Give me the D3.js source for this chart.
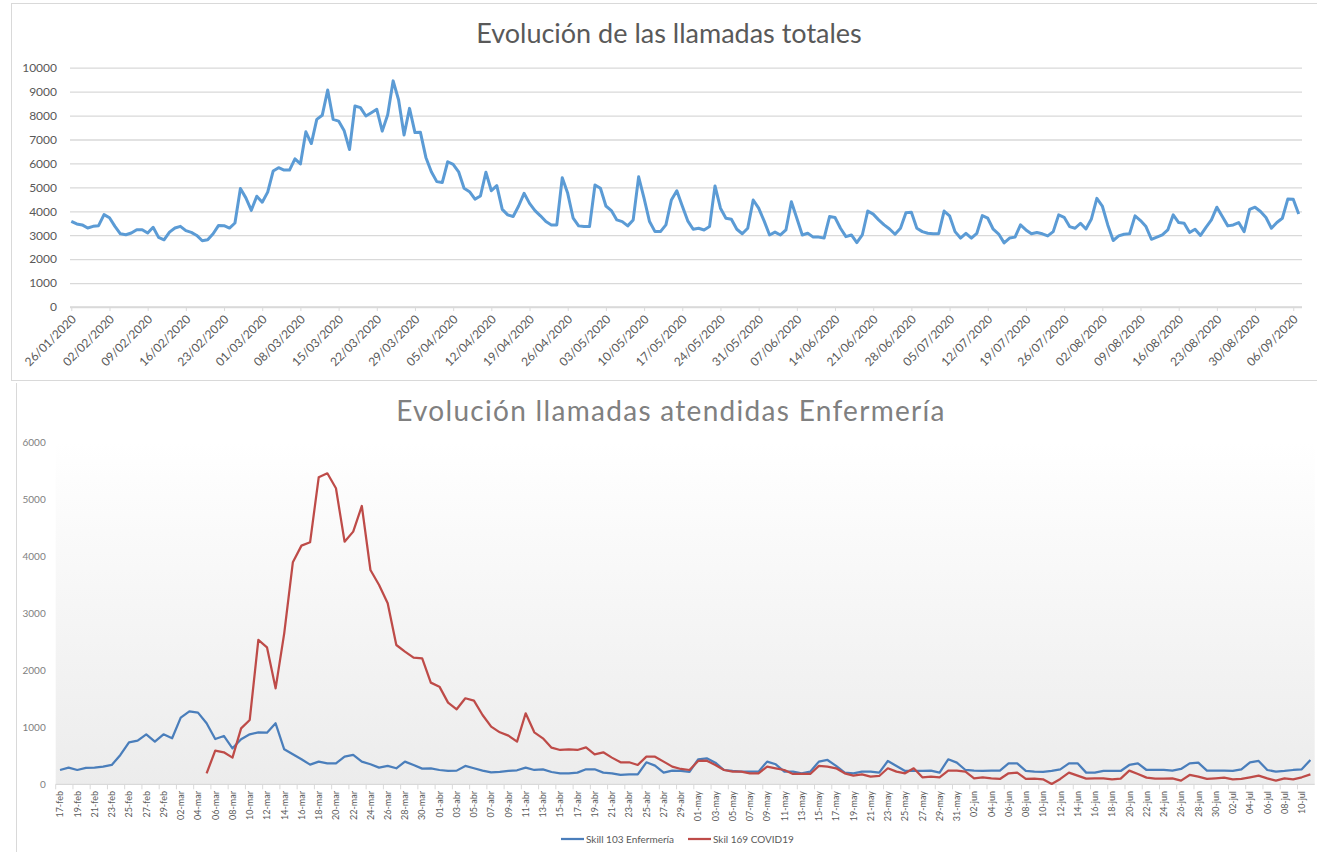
<!DOCTYPE html>
<html lang="es">
<head>
<meta charset="utf-8">
<title>Evolución de las llamadas</title>
<script src="https://cdn.jsdelivr.net/npm/d3@7"></script>
<style>
  html, body { margin: 0; padding: 0; background: #fff; }
  svg { display: block; font-family: Lato, "Open Sans", sans-serif; }
</style>
</head>
<body>
<svg id="chart" width="1317" height="852"></svg>
<script>
// ---- data: llamadas totales (diario desde 26/01/2020) ----
const totalStart = new Date(2020, 0, 26);
const totalCalls = [
  3580, 3470, 3430, 3300, 3370, 3400, 3860, 3730, 3370, 3060,
  3020, 3090, 3230, 3230, 3090, 3330, 2910, 2810, 3130, 3300,
  3370, 3190, 3120, 2990, 2770, 2810, 3060, 3410, 3400, 3300,
  3510, 4950, 4560, 4040, 4630, 4380, 4800, 5680, 5820, 5720,
  5720, 6190, 5980, 7320, 6830, 7840, 8010, 9070, 7840, 7770,
  7380, 6580, 8400, 8330, 7980, 8120, 8260, 7350, 8030, 9450,
  8650, 7190, 8300, 7290, 7300, 6250, 5650, 5240, 5200, 6070,
  5960, 5650, 4960, 4820, 4510, 4640, 5630, 4860, 5070, 4080,
  3850, 3780, 4220, 4750, 4330, 4030, 3810, 3570, 3430, 3430,
  5400, 4750, 3710, 3390, 3360, 3360, 5100, 4960, 4220, 4030,
  3640, 3570, 3390, 3640, 5440, 4540, 3570, 3150, 3150, 3430,
  4470, 4860, 4220, 3600, 3250, 3290, 3220, 3360, 5060, 4130,
  3710, 3670, 3250, 3060, 3290, 4470, 4130, 3600, 3010, 3130,
  3010, 3220, 4400, 3710, 3010, 3080, 2920, 2920, 2880, 3780,
  3740, 3290, 2940, 3010, 2690, 3010, 4010, 3880, 3640, 3430,
  3260, 3040, 3290, 3940, 3960, 3290, 3150, 3080, 3060, 3060,
  4010, 3810, 3150, 2880, 3080, 2880, 3080, 3820, 3710, 3250,
  3050, 2680, 2880, 2920, 3430, 3220, 3060, 3110, 3060, 2970,
  3150, 3850, 3750, 3360, 3290, 3500, 3260, 3680, 4540, 4220,
  3430, 2780, 2970, 3040, 3060, 3810, 3610, 3360, 2830, 2920,
  3010, 3220, 3850, 3530, 3500, 3110, 3250, 2990, 3330, 3640,
  4170, 3780, 3390, 3430, 3530, 3150, 4080, 4170, 3990, 3740,
  3290, 3530, 3710, 4510, 4500, 3890
];
const totalYTicks = [0, 1000, 2000, 3000, 4000, 5000, 6000, 7000, 8000, 9000, 10000];

// ---- data: llamadas atendidas enfermería (diario desde 17-feb) ----
const nurseStart = new Date(2020, 1, 17);
const skill103 = [
  251, 292, 251, 287, 292, 310, 339, 515, 737, 766,
  877, 749, 877, 807, 1170, 1281, 1257, 1070, 795, 848,
  632, 789, 877, 912, 906, 1070, 614, 526, 439, 345,
  398, 368, 368, 485, 515, 398, 351, 292, 322, 281,
  398, 339, 275, 281, 251, 234, 240, 322, 281, 240,
  211, 216, 234, 246, 292, 251, 263, 216, 193, 193,
  205, 263, 263, 205, 193, 164, 175, 175, 386, 327,
  205, 240, 234, 216, 439, 456, 380, 251, 234, 222,
  222, 222, 398, 351, 222, 222, 193, 222, 398, 427,
  322, 205, 193, 222, 222, 205, 409, 322, 234, 234,
  234, 240, 205, 439, 380, 251, 240, 234, 240, 240,
  368, 368, 234, 222, 216, 234, 263, 368, 368, 205,
  205, 234, 234, 234, 339, 368, 251, 251, 251, 240,
  269, 368, 380, 240, 240, 240, 234, 263, 386, 409,
  251, 222, 234, 251, 263, 427
];
const skill169 = [
  null, null, null, null, null, null, null, null, null, null,
  null, null, null, null, null, null, null, 193, 590, 561,
  468, 982, 1129, 2532, 2404, 1684, 2649, 3895, 4187, 4246,
  5386, 5456, 5193, 4257, 4433, 4883, 3760, 3497, 3175, 2444,
  2327, 2222, 2211, 1784, 1713, 1433, 1316, 1509, 1468, 1216,
  1012, 912, 854, 749, 1246, 912, 807, 643, 602, 614,
  602, 649, 526, 561, 468, 386, 386, 339, 485, 485,
  398, 310, 269, 251, 409, 415, 339, 251, 222, 222,
  193, 193, 310, 281, 251, 181, 181, 181, 322, 310,
  281, 193, 152, 175, 135, 146, 281, 222, 193, 281,
  123, 135, 123, 240, 240, 222, 105, 123, 105, 94,
  193, 205, 94, 99, 88, 6, 94, 205, 152, 99,
  105, 105, 88, 99, 240, 181, 117, 99, 99, 105,
  64, 164, 135, 94, 105, 117, 88, 94, 123, 152,
  105, 64, 105, 88, 123, 175
];
const nurseYTicks = [0, 1000, 2000, 3000, 4000, 5000, 6000];
const nurseSeries = [
  { label: "Skill 103 Enfermería", values: skill103, color: "#4a7ebb" },
  { label: "Skil 169 COVID19", values: skill169, color: "#be4b48" },
];
const monthsEs = ["ene", "feb", "mar", "abr", "may", "jun", "jul", "ago", "sep", "oct", "nov", "dic"];

const svg = d3.select("#chart");
const grey = "#595959";
const plain = d3.format("d");

// ================= panel 1 =================
svg.append("rect")
  .attr("x", 11.5).attr("y", 3.5)
  .attr("width", 1330).attr("height", 377)
  .attr("fill", "#fff").attr("stroke", "#d9d9d9");

svg.append("text")
  .attr("x", 669).attr("y", 43)
  .attr("text-anchor", "middle")
  .attr("fill", grey)
  .attr("font-size", 27)
  .text("Evolución de las llamadas totales");

const plotTop = { left: 70, right: 1302, y0: 307, y1: 67.7 };
const xTop = d3.scaleLinear()
  .domain([0, totalCalls.length - 1])
  .range([71.3, 1298.7]);
const yTop = d3.scaleLinear().domain([0, 10000]).range([plotTop.y0, plotTop.y1]);
const fmtTop = d3.timeFormat("%d/%m/%Y");

const gy = svg.append("g")
  .attr("transform", `translate(${plotTop.left},0)`)
  .call(d3.axisLeft(yTop).tickValues(totalYTicks).tickFormat(plain)
    .tickSize(-(plotTop.right - plotTop.left)).tickPadding(13));
gy.select(".domain").remove();
gy.selectAll("line").attr("stroke", "#d9d9d9").attr("stroke-width", 1.3);
gy.selectAll("text").attr("fill", grey).attr("font-size", 12)
  .attr("font-family", "Lato, sans-serif");

const gx = svg.append("g")
  .attr("transform", `translate(0,${plotTop.y0})`)
  .call(d3.axisBottom(xTop)
    .tickValues(d3.range(0, totalCalls.length, 7))
    .tickFormat((i) => fmtTop(d3.timeDay.offset(totalStart, i)))
    .tickSize(4).tickSizeOuter(0));
gx.select(".domain").attr("stroke", "#d9d9d9").attr("stroke-width", 1.3)
  .attr("d", `M${plotTop.left},0H${plotTop.right}`);
gx.selectAll("line").attr("stroke", "#d9d9d9");
gx.selectAll("text")
  .attr("x", 0).attr("y", 0).attr("dy", 0)
  .attr("transform", "translate(5,13) rotate(-45)")
  .style("text-anchor", "end")
  .attr("fill", grey).attr("font-size", 12)
  .attr("font-family", "Lato, sans-serif");

svg.append("path")
  .datum(totalCalls)
  .attr("fill", "none")
  .attr("stroke", "#5b9bd5")
  .attr("stroke-width", 3)
  .attr("stroke-linejoin", "round")
  .attr("d", d3.line().x((d, i) => xTop(i)).y((d) => yTop(d)));

// ================= panel 2 =================
svg.append("line")
  .attr("x1", 16.5).attr("x2", 16.5).attr("y1", 383).attr("y2", 852)
  .attr("stroke", "#d9d9d9");

const defs = svg.append("defs");
const grad = defs.append("linearGradient")
  .attr("id", "plotBg").attr("x1", 0).attr("y1", 0).attr("x2", 0).attr("y2", 1);
grad.append("stop").attr("offset", "0%").attr("stop-color", "#ffffff");
grad.append("stop").attr("offset", "100%").attr("stop-color", "#ececec");

const days = d3.range(skill103.length);
const xBot = d3.scaleBand().domain(days).range([55.7, 1314.7]).paddingInner(0);
const cx = (i) => xBot(i) + xBot.bandwidth() / 2;
const yBot = d3.scaleLinear().domain([0, 6000]).range([784.3, 442.3]);

svg.append("rect")
  .attr("x", xBot.range()[0]).attr("y", yBot(6000))
  .attr("width", xBot.range()[1] - xBot.range()[0])
  .attr("height", yBot(0) - yBot(6000))
  .attr("fill", "url(#plotBg)");

svg.append("text")
  .attr("x", 671).attr("y", 421)
  .attr("text-anchor", "middle")
  .attr("fill", "#808080")
  .attr("font-size", 28)
  .attr("letter-spacing", 1.3)
  .text("Evolución llamadas atendidas Enfermería");

const gy2 = svg.append("g")
  .attr("transform", `translate(${xBot.range()[0]},0)`)
  .call(d3.axisLeft(yBot).tickValues(nurseYTicks).tickFormat(plain)
    .tickSize(0).tickPadding(10));
gy2.select(".domain").remove();
gy2.selectAll("text").attr("fill", "#7f7f7f").attr("font-size", 10)
  .attr("font-family", "Lato, sans-serif");

// x axis line and tick marks at category edges, every two days
svg.append("line")
  .attr("x1", xBot.range()[0]).attr("x2", xBot.range()[1])
  .attr("y1", yBot(0)).attr("y2", yBot(0))
  .attr("stroke", "#d9d9d9").attr("stroke-width", 1.3);
svg.append("g")
  .selectAll("line")
  .data(days.filter((i) => i % 2 === 0))
  .join("line")
  .attr("x1", (i) => xBot(i)).attr("x2", (i) => xBot(i))
  .attr("y1", yBot(0)).attr("y2", yBot(0) + 5)
  .attr("stroke", "#d9d9d9");

const fmtBot = (i) => {
  const d = d3.timeDay.offset(nurseStart, i);
  return `${d3.timeFormat("%d")(d)}-${monthsEs[d.getMonth()]}`;
};
svg.append("g")
  .selectAll("text")
  .data(days.filter((i) => i % 2 === 0))
  .join("text")
  .attr("transform", (i) => `translate(${cx(i) + 3.3},791) rotate(-90)`)
  .attr("text-anchor", "end")
  .attr("fill", grey)
  .attr("font-size", 9)
  .text(fmtBot);

nurseSeries.forEach((s) => {
  svg.append("path")
    .datum(s.values)
    .attr("fill", "none")
    .attr("stroke", s.color)
    .attr("stroke-width", 2.25)
    .attr("stroke-linejoin", "round")
    .attr("d", d3.line()
      .defined((d) => d !== null)
      .x((d, i) => cx(i))
      .y((d) => yBot(d)));
});

const legend = svg.append("g").attr("transform", "translate(561,839)");
const legendX = [0, 127];
nurseSeries.forEach((s, k) => {
  const g = legend.append("g").attr("transform", `translate(${legendX[k]},0)`);
  g.append("line").attr("x1", 0).attr("x2", 23).attr("stroke", s.color).attr("stroke-width", 2.25);
  g.append("text").attr("x", 25).attr("y", 3.5)
    .attr("fill", grey).attr("font-size", 10).text(s.label);
});
</script>
</body>
</html>
